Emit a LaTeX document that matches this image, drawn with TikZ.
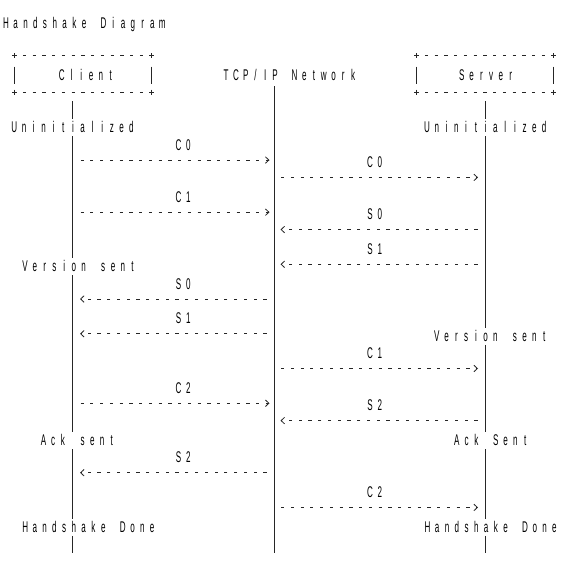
\documentclass[tikz,border=0pt]{standalone}
\usepackage{fontspec}
\setmainfont{Liberation Sans}[FakeStretch=0.52]
\usetikzlibrary{arrows.meta}
\newlength{\cw}\setlength{\cw}{9.76pt}
\ExplSyntaxOn
\NewDocumentCommand{\gridtext}{m}{\str_map_inline:nn {#1} {\makebox[\cw][c]{##1}}}
\ExplSyntaxOff
\begin{document}
\begin{tikzpicture}[x=1pt,y=-1pt,
  every node/.style={font=\fontsize{15.5}{18}\selectfont},
  txt/.style={anchor=base west,inner sep=0pt,text=black},
  lab/.style={anchor=base,inner sep=0pt,text=black},
  life/.style={line width=0.8pt,draw=black!85},
  msg/.style={line width=0.8pt,draw=black!85,dash pattern=on 3.2pt off 6.56pt,
    -{Straight Barb[length=3.5pt,width=6.5pt,line width=0.8pt]}},
  boxline/.style={line width=0.8pt,draw=black!85,dash pattern=on 3.2pt off 6.55pt,dash phase=1.6pt},
  boxnode/.style={minimum width=136.5pt,minimum height=36pt,inner sep=0pt,draw=none},
  plus/.pic={\draw[line width=0.8pt,black!85] (-2.6,0)--(2.6,0) (0,-2.6)--(0,2.6);}
]
\useasboundingbox[fill=white] (0,0) rectangle (575,562);

% title
\node[txt] (title) at (0.9,28.6) {\gridtext{Handshake Diagram}};

% boxes
\node[boxnode] (clientbox) at (83.25,74) {};
\node[boxnode] (serverbox) at (485.25,74) {};
\foreach \b in {clientbox,serverbox}{
  \draw[boxline] (\b.north west) -- (\b.north east);
  \draw[boxline] (\b.south west) -- (\b.south east);
  \draw[life] ([yshift=7.3pt]\b.west) -- ([yshift=-10.2pt]\b.west);
  \draw[life] ([yshift=7.3pt]\b.east) -- ([yshift=-10.2pt]\b.east);
  \pic at (\b.north west) {plus};
  \pic at (\b.north east) {plus};
  \pic at (\b.south west) {plus};
  \pic at (\b.south east) {plus};
}
\node[txt] (client) at (56.8,80.71) {\gridtext{Client}};
\node[txt] (server) at (456.8,80.71) {\gridtext{Server}};
\node[txt] (net) at (221.1,80.71) {\gridtext{TCP/IP Network}};

% state texts
\node[txt] (cuninit) at (9.3,132.82) {\gridtext{Uninitialized}};
\node[txt] (suninit) at (422.0,132.82) {\gridtext{Uninitialized}};
\node[txt] (cversion) at (20.1,271.78) {\gridtext{Version sent}};
\node[txt] (sversion) at (431.8,341.26) {\gridtext{Version sent}};
\node[txt] (cack) at (38.4,445.48) {\gridtext{Ack sent}};
\node[txt] (sack) at (451.8,445.48) {\gridtext{Ack Sent}};
\node[txt] (cdone) at (20.1,532.33) {\gridtext{Handshake Done}};
\node[txt] (sdone) at (422.4,532.33) {\gridtext{Handshake Done}};

% lifelines
\coordinate (cl) at (72.8,101);
\coordinate (nl) at (274,86);
\coordinate (sl) at (485,101);
\coordinate (bot) at (0,553);
\draw[life] (cl) -- (cl |- 0,119.3);
\draw[life] (cl |- 0,136.3) -- (cl |- 0,258.3);
\draw[life] (cl |- 0,275.3) -- (cl |- 0,432);
\draw[life] (cl |- 0,449) -- (cl |- 0,518.8);
\draw[life] (cl |- 0,535.8) -- (cl |- bot);
\draw[life] (nl) -- (nl |- bot);
\draw[life] (sl) -- (sl |- 0,119.3);
\draw[life] (sl |- 0,136.3) -- (sl |- 0,327.8);
\draw[life] (sl |- 0,344.8) -- (sl |- 0,432);
\draw[life] (sl |- 0,449) -- (sl |- 0,518.8);
\draw[life] (sl |- 0,535.8) -- (sl |- bot);

% message rows
\coordinate (a8) at (0,160.06);
\coordinate (a9) at (0,177.43);
\coordinate (a11) at (0,212.17);
\coordinate (a12) at (0,229.54);
\coordinate (a14) at (0,264.28);
\coordinate (a16) at (0,299.02);
\coordinate (a18) at (0,333.76);
\coordinate (a20) at (0,368.5);
\coordinate (a22) at (0,403.24);
\coordinate (a23) at (0,420.61);
\coordinate (a26) at (0,472.72);
\coordinate (a28) at (0,507.46);

% client -> network
\foreach \r in {a8,a11,a22}
  \draw[msg,shorten <=7.7pt,shorten >=4.5pt] (cl |- \r) -- (nl |- \r);
% network -> client
\foreach \r in {a16,a18,a26}
  \draw[msg,shorten <=7.5pt,shorten >=7.2pt] (nl |- \r) -- (cl |- \r);
% network -> server
\foreach \r in {a9,a20,a28}
  \draw[msg,shorten <=7pt,shorten >=7pt] (nl |- \r) -- (sl |- \r);
% server -> network
\foreach \r in {a12,a14,a23}
  \draw[msg,shorten <=7.5pt,shorten >=6.5pt] (sl |- \r) -- (nl |- \r);

% message labels
\node[lab] (lc0) at (183.5,150.19) {\gridtext{C0}};
\node[lab] (lc1) at (183.5,202.3) {\gridtext{C1}};
\node[lab] (ls0) at (183.5,289.15) {\gridtext{S0}};
\node[lab] (ls1) at (183.5,323.89) {\gridtext{S1}};
\node[lab] (lc2) at (183.5,393.37) {\gridtext{C2}};
\node[lab] (ls2) at (183.5,462.85) {\gridtext{S2}};
\node[lab] (rc0) at (375,167.56) {\gridtext{C0}};
\node[lab] (rs0) at (375,219.67) {\gridtext{S0}};
\node[lab] (rs1) at (375,254.41) {\gridtext{S1}};
\node[lab] (rc1) at (375,358.63) {\gridtext{C1}};
\node[lab] (rs2) at (375,410.74) {\gridtext{S2}};
\node[lab] (rc2) at (375,497.59) {\gridtext{C2}};
\end{tikzpicture}
\end{document}
